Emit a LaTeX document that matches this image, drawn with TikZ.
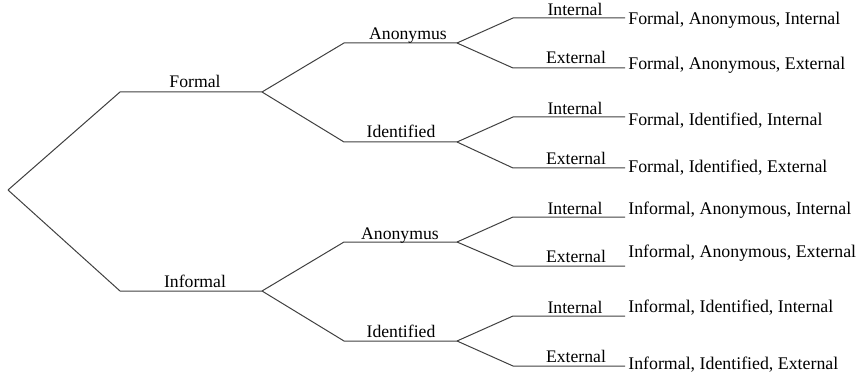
\documentclass[tikz,border=0pt]{standalone}
\usepackage{fontspec}
\setmainfont{Liberation Serif}
\tikzset{
  branch/.style={draw=black!75,line width=0.6pt},
  lbl/.style={anchor=base,inner sep=0pt,font=\fontsize{10.6}{12}\selectfont},
  leaf/.style={anchor=west,inner sep=0pt,font=\fontsize{10.7}{12}\selectfont}
}
\begin{document}
\begin{tikzpicture}[x=0.6pt,y=-0.6pt]
\useasboundingbox (0,0) rectangle (862,375);
% root and first split
\coordinate (root) at (8,190);
\coordinate (f0) at (120,92);  \coordinate (f1) at (262,92);
\coordinate (i0) at (120,291); \coordinate (i1) at (262,291);
\draw[branch] (root) -- (f0) -- (f1);
\draw[branch] (root) -- (i0) -- (i1);
\node[lbl] (lformal) at (195,88) {Formal};
\node[lbl] (linformal) at (195,287) {Informal};
% second split
\coordinate (fa0) at (344,43);  \coordinate (fa1) at (457,43);
\coordinate (fd0) at (344,142); \coordinate (fd1) at (457,142);
\coordinate (ia0) at (344,242); \coordinate (ia1) at (457,242);
\coordinate (id0) at (344,341); \coordinate (id1) at (457,341);
\draw[branch] (f1) -- (fa0) -- (fa1);
\draw[branch] (f1) -- (fd0) -- (fd1);
\draw[branch] (i1) -- (ia0) -- (ia1);
\draw[branch] (i1) -- (id0) -- (id1);
\node[lbl] (lfa) at (408,40) {Anonymus};
\node[lbl] (lfd) at (401,138) {Identified};
\node[lbl] (lia) at (400,239) {Anonymus};
\node[lbl] (lid) at (401,337) {Identified};
% third split
\foreach \p/\a/\b in {fa/18/68,fd/117/168,ia/217/266,id/316/366} {
  \coordinate (\p in0) at (513,\a); \coordinate (\p in1) at (625,\a);
  \coordinate (\p ex0) at (513,\b); \coordinate (\p ex1) at (625,\b);
  \draw[branch] (\p1) -- (\p in0) -- (\p in1);
  \draw[branch] (\p1) -- (\p ex0) -- (\p ex1);
  \node[lbl] (l\p in) at (575,\a-2.5) {Internal};
  \node[lbl] (l\p ex) at (576,\b-4) {External};
}
% outcomes
\node[leaf] (rfai) at (628,20)  {Formal, Anonymous, Internal};
\node[leaf] (rfae) at (628,65)  {Formal, Anonymous, External};
\node[leaf] (rfdi) at (628,121) {Formal, Identified, Internal};
\node[leaf] (rfde) at (628,168) {Formal, Identified, External};
\node[leaf] (riai) at (628,210) {Informal, Anonymous, Internal};
\node[leaf] (riae) at (628,253) {Informal, Anonymous, External};
\node[leaf] (ridi) at (628,308) {Informal, Identified, Internal};
\node[leaf] (ride) at (628,365) {Informal, Identified, External};
\end{tikzpicture}
\end{document}
